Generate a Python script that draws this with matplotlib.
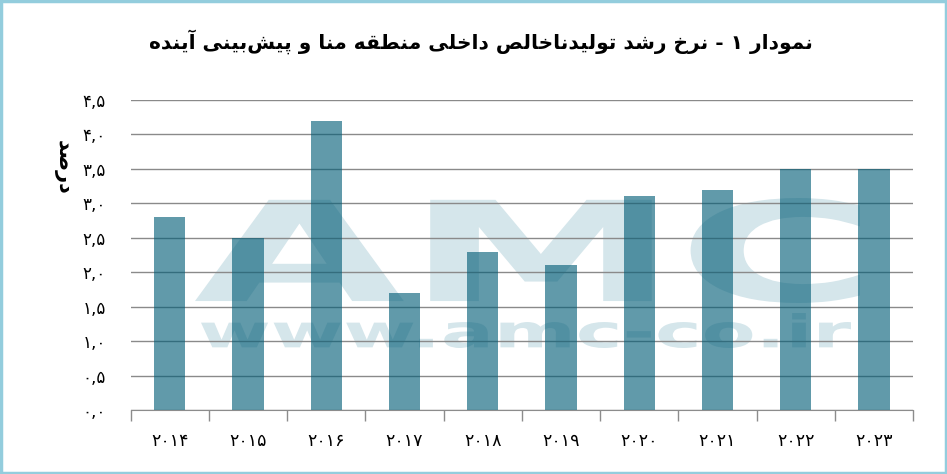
import numpy as np
import matplotlib
matplotlib.use('Agg')
import matplotlib.pyplot as plt
from matplotlib.font_manager import FontProperties
from matplotlib.textpath import TextPath
from matplotlib.patches import PathPatch, Rectangle
from matplotlib.transforms import Affine2D


years  = ['۲۰۱۴', '۲۰۱۵', '۲۰۱۶', '۲۰۱۷', '۲۰۱۸', '۲۰۱۹', '۲۰۲۰', '۲۰۲۱', '۲۰۲۲', '۲۰۲۳']
growth = [2.8, 2.5, 4.2, 1.7, 2.3, 2.1, 3.1, 3.2, 3.5, 3.5]
yticks = [0.0, 0.5, 1.0, 1.5, 2.0, 2.5, 3.0, 3.5, 4.0, 4.5]
ytick_labels = ['۰,۰', '۰,۵', '۱,۰', '۱,۵', '۲,۰', '۲,۵', '۳,۰', '۳,۵', '۴,۰', '۴,۵']

title  = 'نمودار ۱ - نرخ رشد تولیدناخالص داخلی منطقه منا و پیش‌بینی آینده'
ylabel = 'درصد'


# matplotlib does no arabic shaping, so pick presentation forms by hand
FORMS = {
    'ا': ('\uFE8D', '\uFE8E'),
    'آ': ('\uFE81', '\uFE82'),
    'ب': ('\uFE8F', '\uFE90', '\uFE91', '\uFE92'),
    'پ': ('\uFB56', '\uFB57', '\uFB58', '\uFB59'),
    'ت': ('\uFE95', '\uFE96', '\uFE97', '\uFE98'),
    'خ': ('\uFEA5', '\uFEA6', '\uFEA7', '\uFEA8'),
    'د': ('\uFEA9', '\uFEAA'),
    'ر': ('\uFEAD', '\uFEAE'),
    'ش': ('\uFEB5', '\uFEB6', '\uFEB7', '\uFEB8'),
    'ص': ('\uFEB9', '\uFEBA', '\uFEBB', '\uFEBC'),
    'ط': ('\uFEC1', '\uFEC2', '\uFEC3', '\uFEC4'),
    'ق': ('\uFED5', '\uFED6', '\uFED7', '\uFED8'),
    'ل': ('\uFEDD', '\uFEDE', '\uFEDF', '\uFEE0'),
    'م': ('\uFEE1', '\uFEE2', '\uFEE3', '\uFEE4'),
    'ن': ('\uFEE5', '\uFEE6', '\uFEE7', '\uFEE8'),
    'ه': ('\uFEE9', '\uFEEA', '\uFEEB', '\uFEEC'),
    'و': ('\uFEED', '\uFEEE'),
    'ی': ('\uFBFC', '\uFBFD', '\uFBFE', '\uFBFF'),
}


def rtl(s):
    out = []
    for i, ch in enumerate(s):
        if ch not in FORMS:
            if ch != '\u200c':
                out.append(ch)
            continue
        f = FORMS[ch]
        prev = s[i - 1] if i > 0 else ''
        nxt = s[i + 1] if i + 1 < len(s) else ''
        pj = prev in FORMS and len(FORMS[prev]) == 4
        nj = nxt in FORMS and len(f) == 4
        if pj and nj:
            out.append(f[3])
        elif pj:
            out.append(f[1])
        elif nj:
            out.append(f[2])
        else:
            out.append(f[0])
    return ''.join(out)[::-1]


W, H = 947, 474
fig = plt.figure(figsize=(W / 100, H / 100), dpi=100)
ax = fig.add_axes([130.7 / W, 64 / H, (913 - 130.7) / W, 310 / H])

# watermark, stretched to fill its box (pixel coords from top-left)
def watermark(s, x0, y0, x1, y1):
    tp = TextPath((0, 0), s, size=1, prop=FontProperties(family='DejaVu Sans', weight='bold'))
    e = tp.get_extents()
    tr = (Affine2D().translate(-e.x0, -e.y0)
          .scale((x1 - x0) / e.width / W, (y1 - y0) / e.height / H)
          .translate(x0 / W, (H - y1) / H))
    p = PathPatch(tp, transform=tr + fig.transFigure, facecolor='#d5e6eb',
                  edgecolor='none', zorder=0.2, clip_on=False)
    ax.add_patch(p)

watermark('AMC', 195, 198, 860, 303)
watermark('www.amc-co.ir', 201, 313, 851, 348)

x = np.arange(len(years))
ax.bar(x, growth, width=0.4, color='#005c76', alpha=0.62, zorder=2)

ax.set_xlim(-0.5, len(years) - 0.5)
ax.set_ylim(0, 4.5)
ax.set_yticks(yticks)
ax.set_yticklabels(ytick_labels, fontsize=12)
ax.tick_params(axis='y', length=0, pad=18)
ax.yaxis.grid(True, color='#8a8a8a', linewidth=1.0, zorder=0.5)
ax.set_axisbelow(True)

ax.set_xticks(np.arange(-0.5, len(years), 1))
ax.set_xticklabels([])
ax.tick_params(axis='x', which='major', length=8, color='#8c8c8c', width=1)
ax.set_xticks(x, minor=True)
ax.set_xticklabels(years, minor=True, fontsize=12.5)
ax.tick_params(axis='x', which='minor', length=0, pad=16)

for s in ['left', 'right', 'top']:
    ax.spines[s].set_visible(False)
ax.spines['bottom'].set_color('#8c8c8c')

fig.text(481 / W, 1 - 42 / H, rtl(title), ha='center', va='center',
         fontsize=14.5, fontweight='bold', family='DejaVu Sans')
fig.text(63 / W, 1 - 167 / H, rtl(ylabel), ha='center', va='center',
         rotation=270, fontsize=15, fontweight='bold', family='DejaVu Sans')

fig.patches.append(Rectangle((0.0015, 0.003), 0.997, 0.994, transform=fig.transFigure,
                             fill=False, edgecolor='#93cddd', linewidth=2.5))

fig.savefig('out.png', dpi=100)
